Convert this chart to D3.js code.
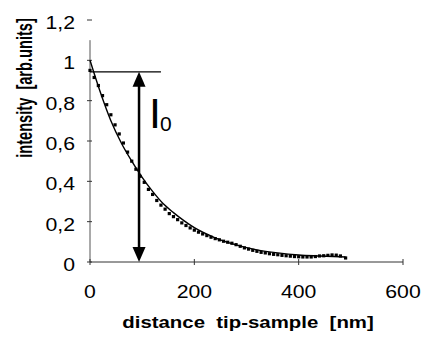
<!DOCTYPE html>
<html>
<head>
<meta charset="utf-8">
<script src="https://cdn.jsdelivr.net/npm/d3@7"></script>
<style>
  body { margin: 0; background: #fff; }
  svg { display: block; }
  text { font-family: "Liberation Sans", Arial, sans-serif; fill: #000; white-space: pre; }
</style>
</head>
<body>
<svg id="chart" width="422" height="337"></svg>
<script>
// measured points (distance nm, intensity)
var dotX = [0,8,16,24,32,40,48,56,64,72,80,88,96,104,112,120,128,136,144,152,
            160,168,176,184,192,200,208,216,224,232,240,248,256,264,272,280,288,296,304,312,
            320,328,336,344,352,360,368,376,384,392,400,408,416,424,432,440,448,456,464,472,480,490];
var dotY = [0.95,0.915,0.875,0.825,0.78,0.73,0.68,0.635,0.59,0.545,0.50,0.46,0.425,0.395,0.36,0.335,0.305,0.282,0.262,0.24,
            0.225,0.21,0.194,0.181,0.169,0.158,0.148,0.139,0.131,0.123,0.116,0.11,0.103,0.098,0.093,0.086,0.078,0.07,0.064,0.058,
            0.053,0.048,0.045,0.041,0.038,0.036,0.033,0.031,0.029,0.027,0.026,0.025,0.025,0.025,0.027,0.030,0.031,0.033,0.035,0.034,0.030,0.020];

// fitted curve
var fitX = [0,20,40,60,80,100,120,140,160,180,200,240,280,320,360,400,440,490];
var fitY = [1.0,0.84,0.70,0.59,0.50,0.42,0.35,0.29,0.245,0.205,0.17,0.12,0.085,0.06,0.045,0.035,0.03,0.025];

var xTicks = [0, 200, 400, 600];
var yTicks = [0, 0.2, 0.4, 0.6, 0.8, 1, 1.2];

// I0 annotation
var i0Level = 0.943;
var i0X = 94;
var i0LineEnd = 136;

var svg = d3.select("#chart");

var x = d3.scaleLinear().domain([0, 600]).range([90, 403]);
var y = d3.scaleLinear().domain([0, 1.2]).range([262, 20]);

var fmt = function(d) { return String(d).replace(".", ","); };

// axes lines
svg.append("line")
  .attr("x1", x(0)).attr("x2", x(0))
  .attr("y1", y(0)).attr("y2", y(1.1))
  .attr("stroke", "#555").attr("stroke-width", 1);
svg.append("line")
  .attr("x1", x(0)).attr("x2", x(600))
  .attr("y1", y(0)).attr("y2", y(0))
  .attr("stroke", "#333").attr("stroke-width", 1);

// tick marks
svg.selectAll(".yt").data(yTicks).enter().append("line")
  .attr("x1", x(0) - 3).attr("x2", x(0) + 2)
  .attr("y1", function(d) { return y(d); })
  .attr("y2", function(d) { return y(d); })
  .attr("stroke", "#333");
svg.selectAll(".xt").data(xTicks).enter().append("line")
  .attr("x1", function(d) { return x(d); })
  .attr("x2", function(d) { return x(d); })
  .attr("y1", y(0) - 3).attr("y2", y(0) + 3)
  .attr("stroke", "#333");

// tick labels (picture is slightly stretched horizontally)
svg.selectAll(".yl").data(yTicks).enter().append("text")
  .attr("transform", function(d) { return "translate(75," + (y(d) + 9) + ") scale(1.18,1)"; })
  .attr("text-anchor", "end")
  .style("font-size", "18px")
  .text(fmt);
svg.selectAll(".xl").data(xTicks).enter().append("text")
  .attr("transform", function(d) { return "translate(" + x(d) + ",298) scale(1.18,1)"; })
  .attr("text-anchor", "middle")
  .style("font-size", "18px")
  .text(fmt);

// axis titles
svg.append("text")
  .attr("transform", "translate(248,328) scale(1.2,1)")
  .attr("text-anchor", "middle")
  .style("font-size", "17px").style("font-weight", "bold")
  .text("distance  tip-sample  [nm]");
svg.append("text")
  .attr("transform", "translate(32,88) rotate(-90) scale(0.86,1.25)")
  .attr("text-anchor", "middle")
  .style("font-size", "17px").style("font-weight", "bold")
  .text("intensity  [arb.units]");

// fit line
var fit = fitX.map(function(d, i) { return [d, fitY[i]]; });
svg.append("path")
  .datum(fit)
  .attr("fill", "none")
  .attr("stroke", "#000")
  .attr("stroke-width", 1.4)
  .attr("d", d3.line()
    .x(function(d) { return x(d[0]); })
    .y(function(d) { return y(d[1]); })
    .curve(d3.curveMonotoneX));

// dots
var dots = dotX.map(function(d, i) { return [d, dotY[i]]; });
svg.selectAll(".dot").data(dots).enter().append("rect")
  .attr("x", function(d) { return x(d[0]) - 1.6; })
  .attr("y", function(d) { return y(d[1]) - 1.6; })
  .attr("width", 3.2).attr("height", 3.2)
  .attr("fill", "#000");

// I0 marker: horizontal level + double arrow
svg.append("line")
  .attr("x1", x(0)).attr("x2", x(i0LineEnd))
  .attr("y1", y(i0Level)).attr("y2", y(i0Level))
  .attr("stroke", "#000").attr("stroke-width", 1.4);
var ax = x(i0X), aTop = y(i0Level), aBot = y(0);
svg.append("line")
  .attr("x1", ax).attr("x2", ax)
  .attr("y1", aTop + 12).attr("y2", aBot - 12)
  .attr("stroke", "#000").attr("stroke-width", 2.5);
svg.append("path")
  .attr("d", "M" + ax + "," + aTop + "L" + (ax - 6.5) + "," + (aTop + 15) + "L" + (ax + 6.5) + "," + (aTop + 15) + "Z")
  .attr("fill", "#000");
svg.append("path")
  .attr("d", "M" + ax + "," + aBot + "L" + (ax - 6.5) + "," + (aBot - 15) + "L" + (ax + 6.5) + "," + (aBot - 15) + "Z")
  .attr("fill", "#000");

svg.append("text")
  .attr("x", 149).attr("y", 128)
  .style("font-size", "43px")
  .text("I");
svg.append("text")
  .attr("x", 160).attr("y", 131)
  .style("font-size", "21px")
  .text("0");
</script>
</body>
</html>
